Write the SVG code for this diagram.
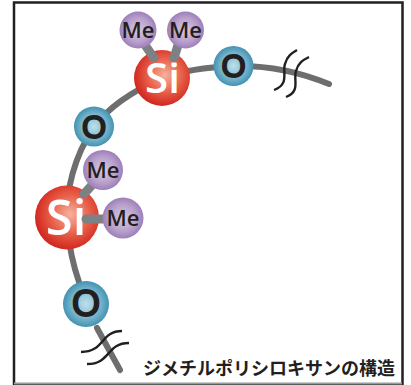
<svg xmlns="http://www.w3.org/2000/svg" width="411" height="385" viewBox="0 0 411 385">
<defs>
<radialGradient id="gSi" cx="0.55" cy="0.45" r="0.55"><stop offset="0" stop-color="#f6b29e"/><stop offset="0.55" stop-color="#e8604a"/><stop offset="1" stop-color="#d2281f"/></radialGradient>
<radialGradient id="gO" cx="0.5" cy="0.5" r="0.5"><stop offset="0" stop-color="#bfe0ea"/><stop offset="0.6" stop-color="#7db8cf"/><stop offset="1" stop-color="#4392b2"/></radialGradient>
<radialGradient id="gMe" cx="0.5" cy="0.5" r="0.5"><stop offset="0" stop-color="#d9cbe3"/><stop offset="0.65" stop-color="#b9a0cc"/><stop offset="1" stop-color="#9d7fb8"/></radialGradient>
</defs>
<style>
.bb{fill:none;stroke:#6d6e70;stroke-width:6;stroke-linecap:round}
.bond{fill:none;stroke:#7d8184;stroke-width:9;stroke-linecap:round}
.brk{fill:none;stroke:#231f20;stroke-width:2.400}
.si{fill:url(#gSi)}.o{fill:url(#gO)}.me{fill:url(#gMe)}
text{font-family:"Open Sans","Liberation Sans","Noto Sans CJK JP",sans-serif;text-anchor:middle}
.tSi{fill:#fff;font-size:42px;font-weight:600}
.tO{fill:#231f20;stroke:#231f20;stroke-width:2;font-family:"Liberation Sans",sans-serif;font-size:31px}
.tMe{fill:#231f20;font-size:22px;font-weight:600}
.cap{fill:#231f20;font-family:"Noto Sans CJK JP",sans-serif;font-size:18px;font-weight:bold;text-anchor:start}
</style>
<rect x="14" y="2.500" width="388.500" height="382" fill="#fff" stroke="#231f20" stroke-width="2.500"/>
<path d="M14 383.500H402" stroke="#9a9a9a" stroke-width="2"/>
<g id="connectors">
<path class="bb" d="M120 370L97 328"/>
<path class="bb" d="M79 282C72 262 69 245 67 225C65 190 75 155 94 127C110 105 135 90 162 78"/>
<path class="bb" d="M162 78C185 70 210 67 233 66C270 65 300 72 329 84"/>
<path class="brk" d="M274 90C290 84 282 72 285 64C287 56 292 53 297 50"/>
<path class="brk" d="M286 97C301 91 293 80 296 71C298 63 303 60 309 57"/>
<path class="brk" d="M81 352C105 352 100 331 122 331"/>
<path class="brk" d="M87 364C111 364 106 343 129 343"/>
</g>
<g id="si1"><circle class="si" cx="162" cy="78" r="28"/><text class="tSi" x="162.500" y="93">Si</text></g>
<g id="si2"><circle class="si" cx="67" cy="217.500" r="32"/><text class="tSi" x="66" y="235" style="font-size:49px">Si</text></g>
<g id="bonds">
<path class="bond" d="M154 58L145 45"/>
<path class="bond" d="M174 58L178 45"/>
<path class="bond" d="M84 194L92 185"/>
<path class="bond" d="M86 219H105"/>
</g>
<g id="me1"><circle class="me" cx="138" cy="30" r="18.500"/><text class="tMe" x="138" y="38">Me</text></g>
<g id="me2"><circle class="me" cx="185.500" cy="30" r="18.500"/><text class="tMe" x="185.500" y="38">Me</text></g>
<g id="o3"><circle class="o" cx="233.500" cy="66" r="20"/><text class="tO" x="233.500" y="77">O</text></g>
<g id="o1"><circle class="o" cx="94" cy="126.500" r="20"/><text class="tO" x="94" y="137.500">O</text></g>
<g id="me3"><circle class="me" cx="103" cy="170" r="20"/><text class="tMe" x="103" y="178">Me</text></g>
<g id="me4"><circle class="me" cx="123" cy="218" r="20.500"/><text class="tMe" x="123" y="226">Me</text></g>
<g id="o2"><circle class="o" cx="86" cy="304" r="23"/><text class="tO" x="86" y="316" style="font-size:36px">O</text></g>
<text class="cap" x="143" y="375">ジメチルポリシロキサンの構造</text>
</svg>
